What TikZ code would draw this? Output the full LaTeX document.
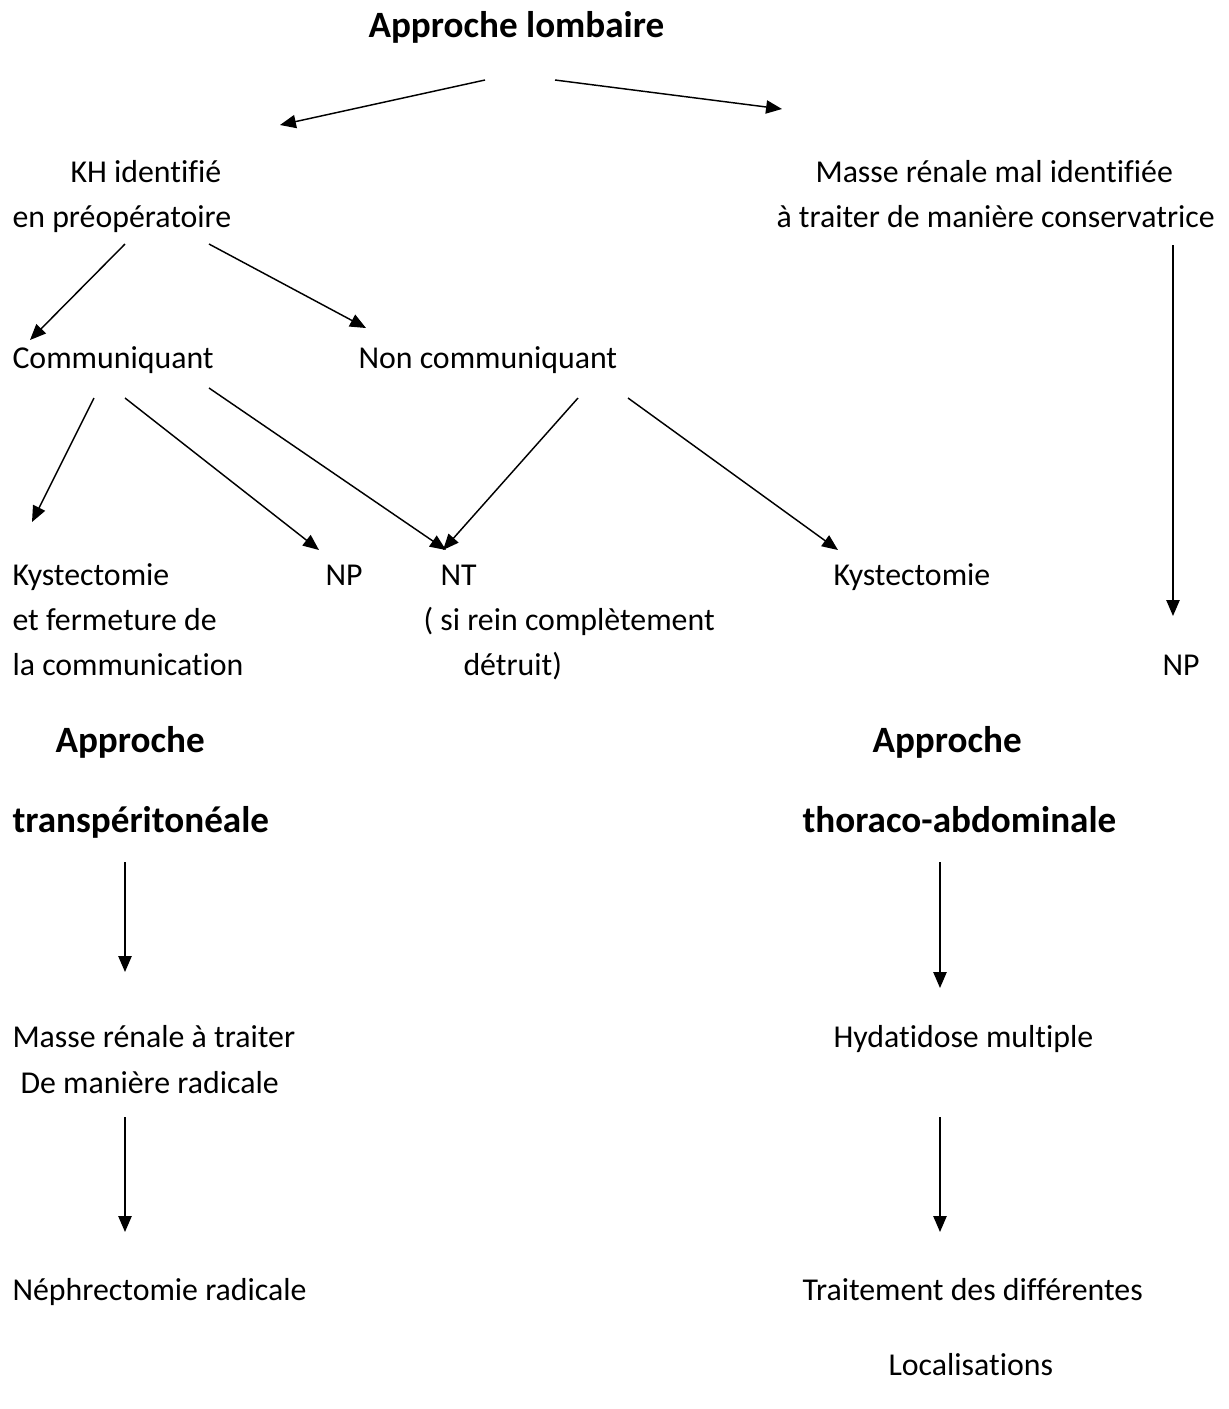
\documentclass[tikz,border=0pt]{standalone}
\usepackage{fontspec}
\setmainfont{Carlito}[Ligatures={NoCommon}]
\usetikzlibrary{arrows.meta}
\begin{document}
\begin{tikzpicture}[x=0.377pt,y=-0.377pt,
  txt/.style={anchor=base west,inner sep=0pt,font=\fontsize{12}{14}\selectfont},
  ttl/.style={anchor=base west,inner sep=0pt,font=\fontsize{14}{17}\selectfont\bfseries},
  arr/.style={-{Triangle[length=6pt,width=5pt]},line width=0.55pt}]
\useasboundingbox (0,0) rectangle (1229,1409);
% texts
\node[ttl] (top) at (368,37) {Approche lombaire};
\node[txt] (kh1) at (70,182) {KH identifié};
\node[txt] (kh2) at (12,227) {en préopératoire};
\node[txt] (mm1) at (815,182) {Masse rénale mal identifiée};
\node[txt] (mm2) at (776,227) {à traiter de manière conservatrice};
\node[txt] (com) at (12,368) {Communiquant};
\node[txt] (ncom) at (358,368) {Non communiquant};
\node[txt] (ky1) at (12,585) {Kystectomie};
\node[txt] (ky2) at (12,630) {et fermeture de};
\node[txt] (ky3) at (12,675) {la communication};
\node[txt] (np1) at (325,585) {NP};
\node[txt] (nt1) at (440,585) {NT};
\node[txt] (nt2) at (423,630) {( si rein complètement};
\node[txt] (nt3) at (463,675) {détruit)};
\node[txt] (ky4) at (833,585) {Kystectomie};
\node[txt] (np2) at (1162,675) {NP};
\node[ttl] (ap1) at (55,752) {Approche};
\node[ttl] (ap2) at (12,832) {transpéritonéale};
\node[ttl] (ap3) at (872,752) {Approche};
\node[ttl] (ap4) at (802,832) {thoraco-abdominale};
\node[txt] (mr1) at (12,1047) {Masse rénale à traiter};
\node[txt] (mr2) at (20,1093) {De manière radicale};
\node[txt] (nr) at (12,1300) {Néphrectomie radicale};
\node[txt] (hy) at (833,1047) {Hydatidose multiple};
\node[txt] (tr1) at (802,1300) {Traitement des différentes};
\node[txt] (tr2) at (888,1375) {Localisations};
% connector end points
\coordinate (a1s) at (485,80);  \coordinate (a1e) at (280,125);
\coordinate (a2s) at (555,80);  \coordinate (a2e) at (782,109);
\coordinate (b1s) at (125,244); \coordinate (b1e) at (30,340);
\coordinate (b2s) at (209,244); \coordinate (b2e) at (366,328);
\coordinate (c1s) at (94,398);  \coordinate (c1e) at (32,522);
\coordinate (c2s) at (125,398); \coordinate (c2e) at (319,550);
\coordinate (c3s) at (209,388); \coordinate (c3e) at (446,550);
\coordinate (d1s) at (578,398); \coordinate (d1e) at (443,550);
\coordinate (d2s) at (628,398); \coordinate (d2e) at (838,550);
\coordinate (r1s) at (1173,245); \coordinate (r1e) at (1173,616);
\coordinate (l1s) at (125,862); \coordinate (l1e) at (125,972);
\coordinate (l2s) at (125,1117); \coordinate (l2e) at (125,1232);
\coordinate (t1s) at (940,862); \coordinate (t1e) at (940,988);
\coordinate (t2s) at (940,1117); \coordinate (t2e) at (940,1232);
\foreach \p in {a1,a2,b1,b2,c1,c2,c3,d1,d2,r1,l1,l2,t1,t2}
  \draw[arr] (\p s) -- (\p e);
\end{tikzpicture}
\end{document}
